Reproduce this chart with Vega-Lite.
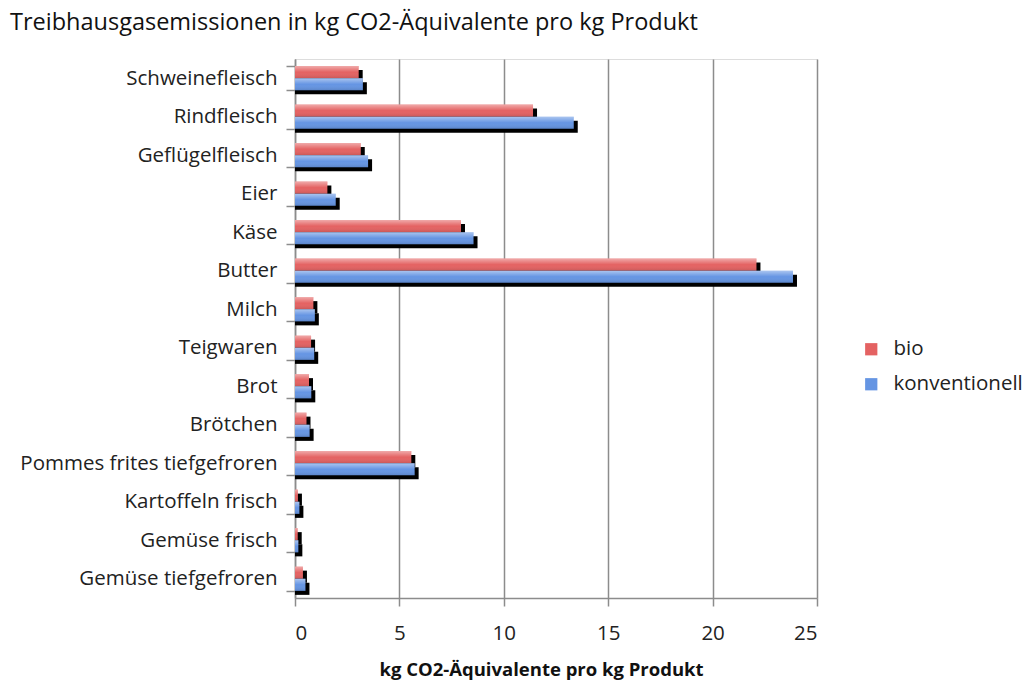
{
  "$schema": "https://vega.github.io/schema/vega-lite/v6.json",
  "autosize": "none",
  "width": 522,
  "height": 539,
  "padding": {"left": 295, "top": 59, "right": 207, "bottom": 86},
  "background": "white",
  "title": {
    "text": "Treibhausgasemissionen in kg CO2-Äquivalente pro kg Produkt",
    "anchor": "start",
    "frame": "group",
    "dx": -285,
    "offset": 15,
    "font": "Open Sans",
    "fontSize": 23.5,
    "fontWeight": "normal",
    "color": "#111"
  },
  "data": {
    "values": [
      {"produkt": "Schweinefleisch", "typ": "bio", "wert": 3.05},
      {"produkt": "Schweinefleisch", "typ": "konventionell", "wert": 3.25},
      {"produkt": "Rindfleisch", "typ": "bio", "wert": 11.4},
      {"produkt": "Rindfleisch", "typ": "konventionell", "wert": 13.35},
      {"produkt": "Geflügelfleisch", "typ": "bio", "wert": 3.15},
      {"produkt": "Geflügelfleisch", "typ": "konventionell", "wert": 3.5},
      {"produkt": "Eier", "typ": "bio", "wert": 1.55},
      {"produkt": "Eier", "typ": "konventionell", "wert": 1.95},
      {"produkt": "Käse", "typ": "bio", "wert": 7.95},
      {"produkt": "Käse", "typ": "konventionell", "wert": 8.55},
      {"produkt": "Butter", "typ": "bio", "wert": 22.1},
      {"produkt": "Butter", "typ": "konventionell", "wert": 23.85},
      {"produkt": "Milch", "typ": "bio", "wert": 0.88},
      {"produkt": "Milch", "typ": "konventionell", "wert": 0.95},
      {"produkt": "Teigwaren", "typ": "bio", "wert": 0.77},
      {"produkt": "Teigwaren", "typ": "konventionell", "wert": 0.92},
      {"produkt": "Brot", "typ": "bio", "wert": 0.67},
      {"produkt": "Brot", "typ": "konventionell", "wert": 0.78},
      {"produkt": "Brötchen", "typ": "bio", "wert": 0.55},
      {"produkt": "Brötchen", "typ": "konventionell", "wert": 0.7},
      {"produkt": "Pommes frites tiefgefroren", "typ": "bio", "wert": 5.57},
      {"produkt": "Pommes frites tiefgefroren", "typ": "konventionell", "wert": 5.73},
      {"produkt": "Kartoffeln frisch", "typ": "bio", "wert": 0.14},
      {"produkt": "Kartoffeln frisch", "typ": "konventionell", "wert": 0.21},
      {"produkt": "Gemüse frisch", "typ": "bio", "wert": 0.13},
      {"produkt": "Gemüse frisch", "typ": "konventionell", "wert": 0.16},
      {"produkt": "Gemüse tiefgefroren", "typ": "bio", "wert": 0.38},
      {"produkt": "Gemüse tiefgefroren", "typ": "konventionell", "wert": 0.5}
    ]
  },
  "encoding": {
    "y": {
      "field": "produkt",
      "type": "nominal",
      "sort": ["Schweinefleisch", "Rindfleisch", "Geflügelfleisch", "Eier", "Käse", "Butter", "Milch", "Teigwaren", "Brot", "Brötchen", "Pommes frites tiefgefroren", "Kartoffeln frisch", "Gemüse frisch", "Gemüse tiefgefroren"],
      "scale": {"paddingInner": 0.37, "paddingOuter": 0.185},
      "axis": {
        "title": null,
        "tickBand": "extent",
        "domainColor": "#8c8c8c",
        "domainWidth": 1.5,
        "tickColor": "#8c8c8c",
        "tickWidth": 1.5,
        "tickSize": 9,
        "labelPadding": 9,
        "labelLimit": 400,
        "labelFont": "Open Sans",
        "labelFontSize": 20.5,
        "labelColor": "#222"
      }
    },
    "x": {
      "field": "wert",
      "type": "quantitative",
      "stack": null,
      "scale": {"domain": [0, 25], "nice": false},
      "axis": {
        "title": "kg CO2-Äquivalente pro kg Produkt",
        "values": [0, 5, 10, 15, 20, 25],
        "grid": true,
        "gridColor": "#8c8c8c",
        "gridWidth": 1.5,
        "domainColor": "#8c8c8c",
        "domainWidth": 1.5,
        "tickColor": "#8c8c8c",
        "tickWidth": 1.5,
        "tickSize": 8,
        "labelPadding": 17,
        "labelFont": "Open Sans",
        "labelFontSize": 20.5,
        "labelColor": "#222",
        "titleFont": "Open Sans",
        "titleFontSize": 18.5,
        "titleFontWeight": "bold",
        "titleColor": "#111",
        "titlePadding": 17,
        "titleX": 246
      }
    }
  },
  "layer": [
    {
      "mark": {"type": "bar", "color": "#000000", "xOffset": 4, "x2Offset": 4},
      "encoding": {
        "yOffset": {
          "field": "typ",
          "type": "nominal",
          "sort": ["bio", "konventionell"],
          "scale": {"range": [4, 28.25]}
        }
      }
    },
    {
      "mark": {"type": "bar"},
      "encoding": {
        "yOffset": {
          "field": "typ",
          "type": "nominal",
          "sort": ["bio", "konventionell"],
          "scale": {"range": [0, 24.25]}
        },
        "color": {
          "field": "typ",
          "type": "nominal",
          "scale": {"domain": ["bio", "konventionell"], "range": ["#E46262", "#6595E3"]},
          "legend": {
            "title": null,
            "orient": "none",
            "legendX": 566,
            "legendY": 280,
            "symbolType": "square",
            "symbolSize": 150,
            "symbolStrokeWidth": 0,
            "labelFont": "Open Sans",
            "labelFontSize": 20.5,
            "labelColor": "#222",
            "labelOffset": 12,
            "rowPadding": 14
          }
        }
      }
    },
    {
      "mark": {
        "type": "bar",
        "color": {
          "gradient": "linear",
          "x1": 0, "y1": 0, "x2": 0, "y2": 1,
          "stops": [
            {"offset": 0, "color": "rgba(255,255,255,0.45)"},
            {"offset": 0.5, "color": "rgba(255,255,255,0)"},
            {"offset": 1, "color": "rgba(0,0,0,0.12)"}
          ]
        }
      },
      "encoding": {
        "yOffset": {
          "field": "typ",
          "type": "nominal",
          "sort": ["bio", "konventionell"],
          "scale": {"range": [0, 24.25]}
        }
      }
    }
  ],
  "resolve": {"scale": {"yOffset": "independent"}}
}
